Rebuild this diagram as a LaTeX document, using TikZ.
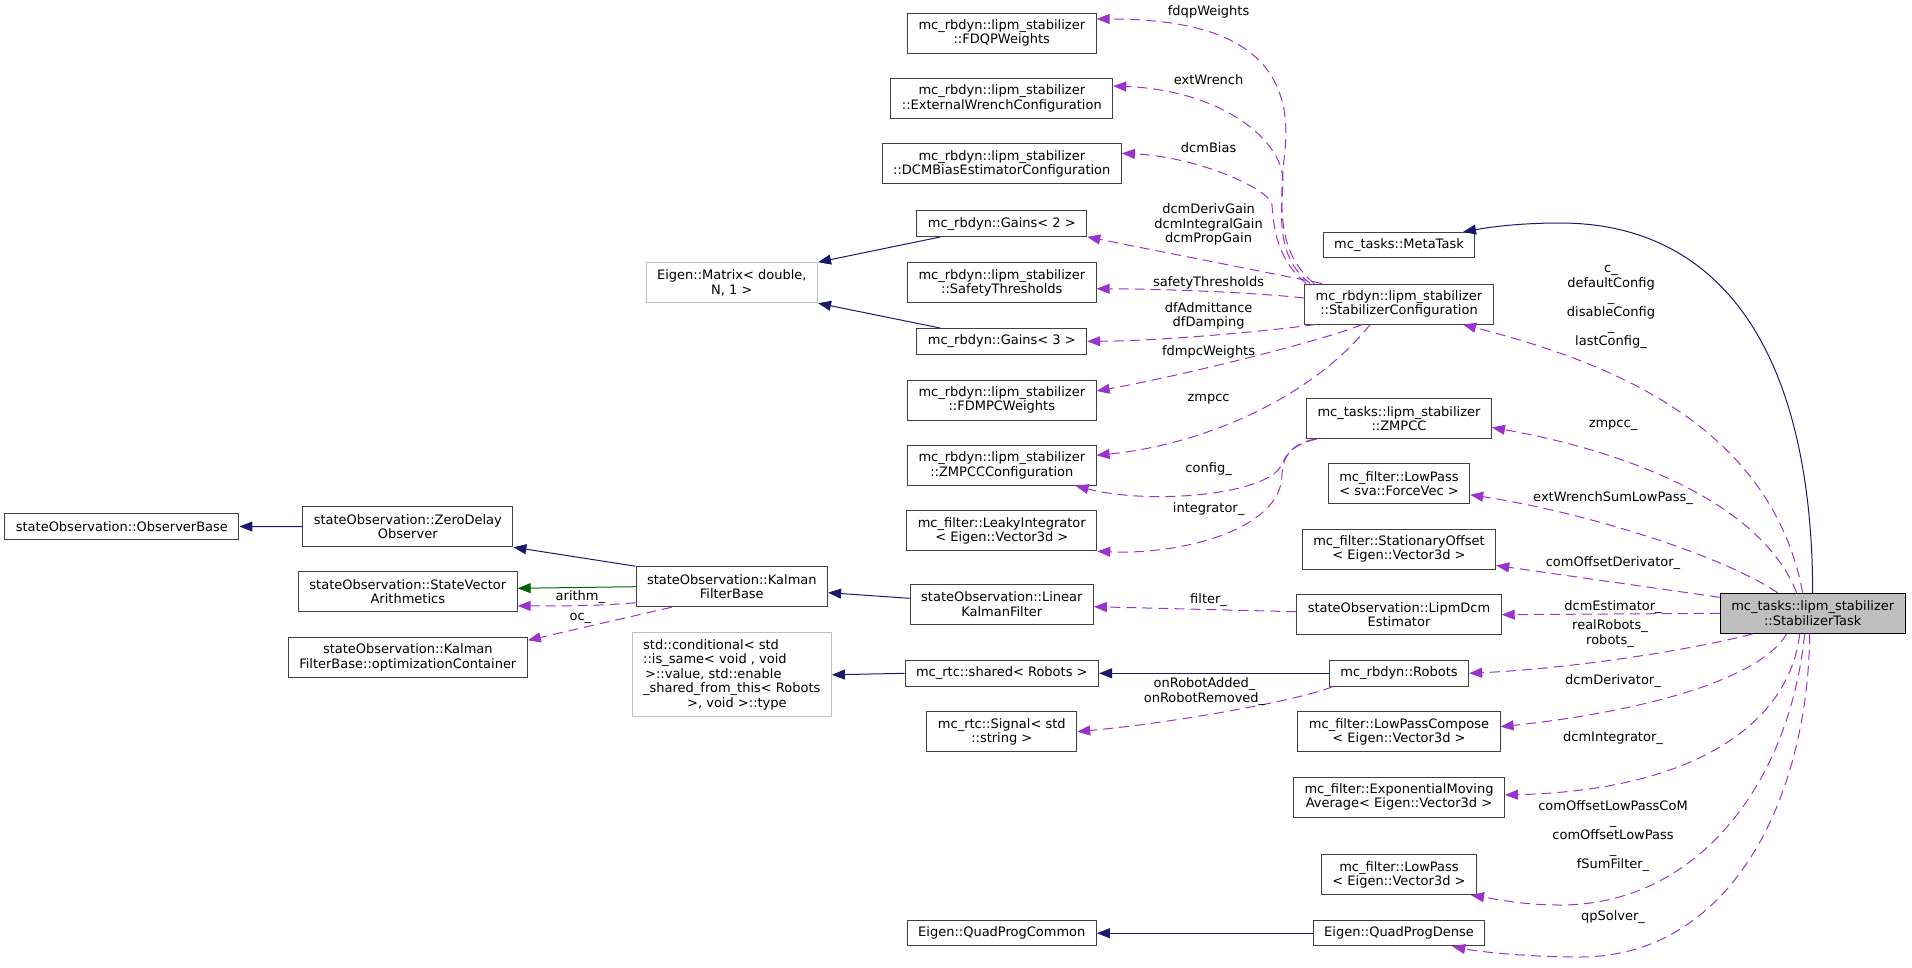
\documentclass[tikz,border=0pt]{standalone}
\usepackage{fontspec}
\setmainfont{DejaVu Sans}
\usetikzlibrary{arrows.meta}
\definecolor{inhblue}{HTML}{191970}
\definecolor{inhgreen}{HTML}{006400}
\definecolor{usepurple}{HTML}{9A32CD}
\definecolor{nodegrey}{HTML}{BFBFBF}
\definecolor{boxline}{HTML}{404040}
\begin{document}
\begin{tikzpicture}[x=1pt,y=-1pt,
    font=\fontsize{13}{14.5}\selectfont,
    cls/.style={draw=boxline,line width=1pt,inner xsep=11pt,inner ysep=0pt,minimum height=25.5pt,align=center},
    cls2/.style={cls,minimum height=40pt},
    ext/.style={cls2,draw=nodegrey},
    inh/.style={draw=inhblue,line width=1pt,-{Triangle[length=13pt,width=10pt]}},
    prot/.style={inh,draw=inhgreen},
    uses/.style={draw=usepurple,line width=1pt,dash pattern=on 10pt off 6pt,-{Triangle[length=13pt,width=10pt]}},
    lbl/.style={inner sep=0pt,align=center}]
    \useasboundingbox (0,0) rectangle (1912,967);
    \begin{scope}[xshift=121.9pt]
        \node[cls] (obs) at (0,526.5) {stateObservation::ObserverBase};
    \end{scope}
    \begin{scope}[xshift=407.8pt]
        \node[cls2] (zdo) at (0,526.7) {stateObservation::ZeroDelay\\Observer};
        \node[cls2] (sva) at (0,591.8) {stateObservation::StateVector\\Arithmetics};
        \node[cls2] (opt) at (0,657.3) {stateObservation::Kalman\\FilterBase::optimizationContainer};
    \end{scope}
    \begin{scope}[xshift=731.8pt]
        \node[ext] (matrix) at (0,282.7) {Eigen::Matrix< double,\\N, 1 >};
        \node[cls2] (kfb) at (0,586.7) {stateObservation::Kalman\\FilterBase};
        \node[ext,align=left,minimum height=83.7pt] (cond) at (0,674.8) {std::conditional< std\\::is\_same< void , void\\\hspace*{2pt}>::value, std::enable\\\_shared\_from\_this< Robots\\\hspace*{44pt}>, void >::type};
    \end{scope}
    \begin{scope}[xshift=1001.8pt]
        \node[cls2] (fdqp) at (0,33) {mc\_rbdyn::lipm\_stabilizer\\::FDQPWeights};
        \node[cls2] (extw) at (0,98.5) {mc\_rbdyn::lipm\_stabilizer\\::ExternalWrenchConfiguration};
        \node[cls2] (dcmb) at (0,163.8) {mc\_rbdyn::lipm\_stabilizer\\::DCMBiasEstimatorConfiguration};
        \node[cls] (g2) at (0,223.7) {mc\_rbdyn::Gains< 2 >};
        \node[cls2] (safety) at (0,282.7) {mc\_rbdyn::lipm\_stabilizer\\::SafetyThresholds};
        \node[cls] (g3) at (0,341.3) {mc\_rbdyn::Gains< 3 >};
        \node[cls2] (fdmpc) at (0,400) {mc\_rbdyn::lipm\_stabilizer\\::FDMPCWeights};
        \node[cls2] (zcfg) at (0,465.3) {mc\_rbdyn::lipm\_stabilizer\\::ZMPCCConfiguration};
        \node[cls2] (leaky) at (0,530.7) {mc\_filter::LeakyIntegrator\\< Eigen::Vector3d >};
        \node[cls2] (lkf) at (0,604) {stateObservation::Linear\\KalmanFilter};
        \node[cls] (shared) at (0,673.3) {mc\_rtc::shared< Robots >};
        \node[cls2] (signal) at (0,731.7) {mc\_rtc::Signal< std\\::string >};
        \node[cls] (qpc) at (0,933.2) {Eigen::QuadProgCommon};
    \end{scope}
    \begin{scope}[xshift=1399pt]
        \node[cls] (meta) at (0,245.2) {mc\_tasks::MetaTask};
        \node[cls2] (cfg) at (0,304) {mc\_rbdyn::lipm\_stabilizer\\::StabilizerConfiguration};
        \node[cls2] (zmpcc) at (0,418.5) {mc\_tasks::lipm\_stabilizer\\::ZMPCC};
        \node[cls2] (lpf) at (0,483.7) {mc\_filter::LowPass\\< sva::ForceVec >};
        \node[cls2] (so) at (0,549) {mc\_filter::StationaryOffset\\< Eigen::Vector3d >};
        \node[cls2] (lipm) at (0,614.7) {stateObservation::LipmDcm\\Estimator};
        \node[cls] (robots) at (0,673.3) {mc\_rbdyn::Robots};
        \node[cls2] (lpc) at (0,731.7) {mc\_filter::LowPassCompose\\< Eigen::Vector3d >};
        \node[cls2] (ema) at (0,797) {mc\_filter::ExponentialMoving\\Average< Eigen::Vector3d >};
        \node[cls2] (lp3) at (0,874.7) {mc\_filter::LowPass\\< Eigen::Vector3d >};
        \node[cls] (qpd) at (0,933.2) {Eigen::QuadProgDense};
    \end{scope}
    \node[cls2,fill=nodegrey,draw=black] (task) at (1812.7,613.3) {mc\_tasks::lipm\_stabilizer\\::StabilizerTask};

    \draw[inh] (zdo.west) -- (obs.east);
    \draw[inh] (kfb.north west) -- (zdo.south east);
    \draw[prot] (kfb.west) -- ([yshift=3.5pt]sva.east);
    \draw[inh] ([yshift=5.7pt]lkf.west) -- ([yshift=-6pt]kfb.east);
    \draw[inh] ([xshift=24pt]g2.south west) -- (matrix.north east);
    \draw[inh] ([xshift=24pt]g3.north west) -- (matrix.south east);
    \draw[inh] (robots.west) -- (shared.east);
    \draw[inh] (shared.west) -- (cond.east);
    \draw[inh] (qpd.west) -- (qpc.east);
    \draw[inh] (task.north) .. controls (1812,350) and (1720,223) .. (1560,223) .. controls (1520,223) and (1490,227) .. ([xshift=64pt]meta.north);

    \draw[uses] ([yshift=-16pt]kfb.west) .. controls (600,606) and (560,606) .. ([yshift=-14pt]sva.east);
    \draw[uses] ([xshift=-60pt]kfb.south) -- ([yshift=17pt]opt.east);
    \node[lbl] (l-arithm) at (580.4,596.7) {arithm\_};
    \node[lbl] (l-oc) at (580.4,618.3) {oc\_};

    \draw[uses] ([xshift=10pt]cfg.north west) .. controls (1280,255) and (1278,215) .. (1285,150) .. controls (1295,50) and (1220,19) .. ([yshift=14pt]fdqp.east);
    \draw[uses] ([xshift=6pt]cfg.north west) .. controls (1282,262) and (1279,230) .. (1283,185) .. controls (1286,140) and (1220,90) .. ([yshift=12.5pt]extw.east);
    \draw[uses] ([xshift=2pt]cfg.north west) .. controls (1280,262) and (1274,235) .. (1272,205) .. controls (1271,190) and (1200,157) .. ([yshift=10.5pt]dcmb.east);
    \draw[uses] ([xshift=18pt]cfg.north west) -- (g2.south east);
    \draw[uses] ([yshift=6pt]cfg.west) .. controls (1250,292) and (1160,289) .. ([yshift=-6pt]safety.east);
    \draw[uses] ([xshift=11pt]cfg.south west) .. controls (1270,331) and (1160,341) .. (g3.east);
    \draw[uses] ([xshift=58pt]cfg.south west) .. controls (1320,342) and (1170,378) .. ([yshift=9pt]fdmpc.east);
    \draw[uses] ([xshift=66pt]cfg.south west) .. controls (1310,400) and (1200,445) .. ([yshift=10pt]zcfg.east);
    \node[lbl] (l-fdqp) at (1208.6,11.7) {fdqpWeights};
    \node[lbl] (l-extw) at (1208.6,79.3) {extWrench};
    \node[lbl] (l-dcmb) at (1208.6,147.3) {dcmBias};
    \node[lbl] (l-gains2) at (1208.6,224.9) {dcmDerivGain\\dcmIntegralGain\\dcmPropGain};
    \node[lbl] (l-safety) at (1208.6,283.3) {safetyThresholds};
    \node[lbl] (l-gains3) at (1208.6,315.8) {dfAdmittance\\dfDamping};
    \node[lbl] (l-fdmpc) at (1208.6,352.3) {fdmpcWeights};
    \node[lbl] (l-zcfg) at (1208.6,399) {zmpcc};

    \draw[uses] ([xshift=11pt]zmpcc.south west) .. controls (1295,444) and (1287,452) .. (1281,466) .. controls (1265,495) and (1150,505) .. ([xshift=-21pt]zcfg.south east);
    \draw[uses] ([xshift=9pt]zmpcc.south west) .. controls (1292,444) and (1283,455) .. (1282,475) .. controls (1281,530) and (1180,555) .. (leaky.south east);
    \draw[uses] ([yshift=3pt]lipm.west) -- ([yshift=-2.7pt]lkf.east);
    \draw[uses] ([xshift=4pt]robots.south west) .. controls (1300,700) and (1180,722) .. (signal.east);
    \node[lbl] (l-config) at (1208.6,469) {config\_};
    \node[lbl] (l-integrator) at (1208.6,509) {integrator\_};
    \node[lbl] (l-filter) at (1208.6,600) {filter\_};
    \node[lbl] (l-signal) at (1204.5,691.8) {onRobotAdded\_\\onRobotRemoved\_};

    \draw[uses] ([xshift=-10pt]task.north) .. controls (1770,420) and (1600,360) .. ([xshift=64pt]cfg.south);
    \draw[uses] ([xshift=-16pt]task.north) .. controls (1760,500) and (1620,450) .. ([yshift=-9pt]zmpcc.east);
    \draw[uses] ([xshift=-35pt]task.north) .. controls (1730,560) and (1600,515) .. ([yshift=-11pt]lpf.east);
    \draw[uses] ([yshift=16pt]task.west) -- ([yshift=-16.5pt]so.east);
    \draw[uses] (task.west) -- (lipm.east);
    \draw[uses] ([xshift=-60pt]task.south) .. controls (1700,648) and (1580,668) .. (robots.east);
    \draw[uses] ([xshift=-26pt]task.south) .. controls (1760,680) and (1640,712) .. ([yshift=5pt]lpc.east);
    \draw[uses] ([xshift=-13pt]task.south) .. controls (1790,720) and (1700,790) .. ([yshift=2pt]ema.east);
    \draw[uses] ([xshift=-8pt]task.south) .. controls (1790,780) and (1700,905) .. (1560,905) .. controls (1520,905) and (1490,898) .. ([xshift=-6pt]lp3.south east);
    \draw[uses] ([xshift=-3pt]task.south) .. controls (1808,800) and (1730,957) .. (1580,957) .. controls (1530,957) and (1480,952) .. ([xshift=-33pt]qpd.south east);
    \node[lbl] (l-cfg) at (1611,307) {c\_\\defaultConfig\\\_\\disableConfig\\\_\\lastConfig\_};
    \node[lbl] (l-zmpcc) at (1613,425) {zmpcc\_};
    \node[lbl] (l-lpf) at (1613,498.3) {extWrenchSumLowPass\_};
    \node[lbl] (l-so) at (1613,562.7) {comOffsetDerivator\_};
    \node[lbl] (l-lipm) at (1613,606.7) {dcmEstimator\_};
    \node[lbl] (l-robots) at (1610,633.7) {realRobots\_\\robots\_};
    \node[lbl] (l-lpc) at (1613,681) {dcmDerivator\_};
    \node[lbl] (l-ema) at (1613,738.3) {dcmIntegrator\_};
    \node[lbl] (l-lp3) at (1613,835.8) {comOffsetLowPassCoM\\\_\\comOffsetLowPass\hspace*{36pt}\\\_\\fSumFilter\_};
    \node[lbl] (l-qpd) at (1613,916.7) {qpSolver\_};
\end{tikzpicture}
\end{document}
